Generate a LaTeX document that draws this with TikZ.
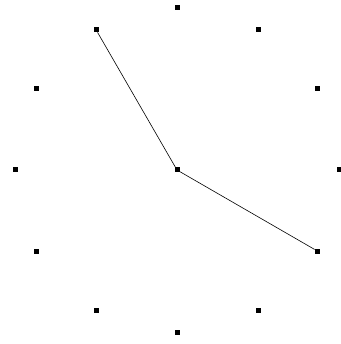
\documentclass[tikz,border=0pt]{standalone}
\usetikzlibrary{positioning}

\tikzset{
  dot/.style={fill=black, inner sep=0pt, minimum size=5pt, rectangle},
  hand/.style={draw=black, line width=0.6pt}
}

\begin{document}
\begin{tikzpicture}[x=1pt,y=-1pt]
            \useasboundingbox (0,0) rectangle (340,344);
            \fill[white] (0,0) rectangle (340,344);
            \node[dot] (O) at (177,170) {};
            % les douze heures du cadran
            \foreach \h in {1,...,12}{
              \node[dot] (h\h) at ({177+162*cos(90-30*\h)},{170-162*sin(90-30*\h)}) {};
            }
            \draw[hand] (O) -- (h11);
            \draw[hand] (O) -- (h4);
        \end{tikzpicture}
\end{document}
